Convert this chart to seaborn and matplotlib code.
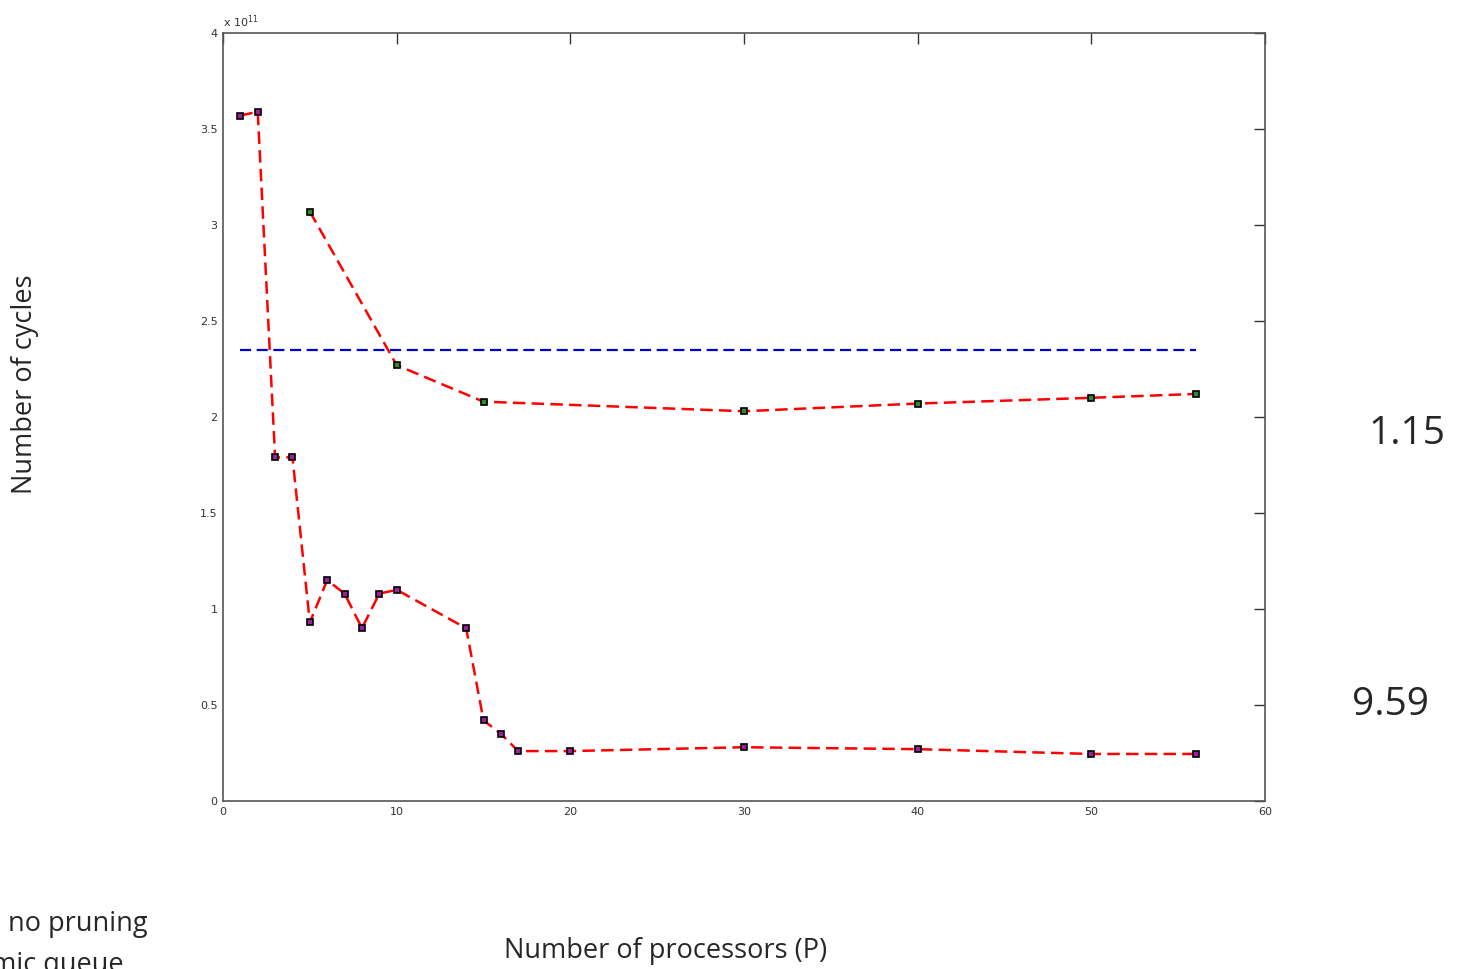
import matplotlib
matplotlib.use("Agg")
import matplotlib.pyplot as plt
import seaborn as sns
from matplotlib.ticker import FuncFormatter

# data (cycles, in units of 1e11)
procs_dyn = [1, 2, 3, 4, 5, 6, 7, 8, 9, 10, 14, 15, 16, 17, 20, 30, 40, 50, 56]
cycles_dyn = [3.57, 3.59, 1.79, 1.79, 0.93, 1.15, 1.08, 0.90, 1.08, 1.10,
              0.90, 0.42, 0.35, 0.26, 0.26, 0.28, 0.27, 0.245, 0.245]
procs_prune = [5, 10, 15, 30, 40, 50, 56]
cycles_prune = [3.07, 2.27, 2.08, 2.03, 2.07, 2.10, 2.12]
seq_x = [1, 56]
seq_cycles = [2.35, 2.35]

xticks = [0, 10, 20, 30, 40, 50, 60]
yticks = [0, 0.5, 1, 1.5, 2, 2.5, 3, 3.5, 4]

sns.set_style("white")
plt.rcParams['font.family'] = ['DejaVu Sans']

fig = plt.figure(figsize=(14.57, 9.69), dpi=100)
ax = fig.add_axes([223 / 1457, 1 - 801 / 969, (1265 - 223) / 1457, (801 - 33) / 969])

sns.lineplot(x=seq_x, y=seq_cycles, ax=ax, color="#0000cc", linewidth=1.6)
ax.lines[-1].set_linestyle((0, (5, 2.5)))
sns.lineplot(x=procs_prune, y=cycles_prune, ax=ax, color="red", linewidth=1.8,
             marker="s", markersize=4.5, markerfacecolor="#2e8b2e",
             markeredgecolor="black", markeredgewidth=1.2)
ax.lines[-1].set_linestyle((0, (5, 2.5)))
sns.lineplot(x=procs_dyn, y=cycles_dyn, ax=ax, color="red", linewidth=1.8,
             marker="s", markersize=4.5, markerfacecolor="#9b1fa0",
             markeredgecolor="black", markeredgewidth=1.2)
ax.lines[-1].set_linestyle((0, (5, 2.5)))

ax.set_xlim(0, 60)
ax.set_ylim(0, 4)
ax.set_xticks(xticks)
ax.set_yticks(yticks)
ax.yaxis.set_major_formatter(FuncFormatter(lambda v, p: f"{v:g}"))
ax.tick_params(direction="in", length=8, width=1, labelsize=8, colors="#333333",
               top=True, right=True, pad=4)
for s in ax.spines.values():
    s.set_color("#555555")
    s.set_linewidth(1.2)
ax.set_xlabel("")
ax.set_ylabel("")

ax.text(0.0, 1.004, "x 10$^{11}$", transform=ax.transAxes, fontsize=8,
        color="#333333", ha="left", va="bottom")

tfont = ["Open Sans", "DejaVu Sans"]
fig.text(25 / 1457, 1 - 384 / 969, "Number of cycles", rotation=90, fontsize=19.5,
         family=tfont, ha="center", va="center")
fig.text(666 / 1457, 1 - 951 / 969, "Number of processors (P)", fontsize=19.5,
         family=tfont, ha="center", va="center")
fig.text(1407 / 1457, 1 - 434 / 969, "1.15", fontsize=28, family=tfont,
         ha="center", va="center")
fig.text(1391 / 1457, 1 - 705 / 969, "9.59", fontsize=28, family=tfont,
         ha="center", va="center")
fig.text(148 / 1457, 1 - 924 / 969, "no pruning", fontsize=19.5, family=tfont,
         ha="right", va="center")
fig.text(124 / 1457, 1 - 965 / 969, "dynamic queue", fontsize=19.5, family=tfont,
         ha="right", va="center")

fig.savefig("out.png", dpi=100)
